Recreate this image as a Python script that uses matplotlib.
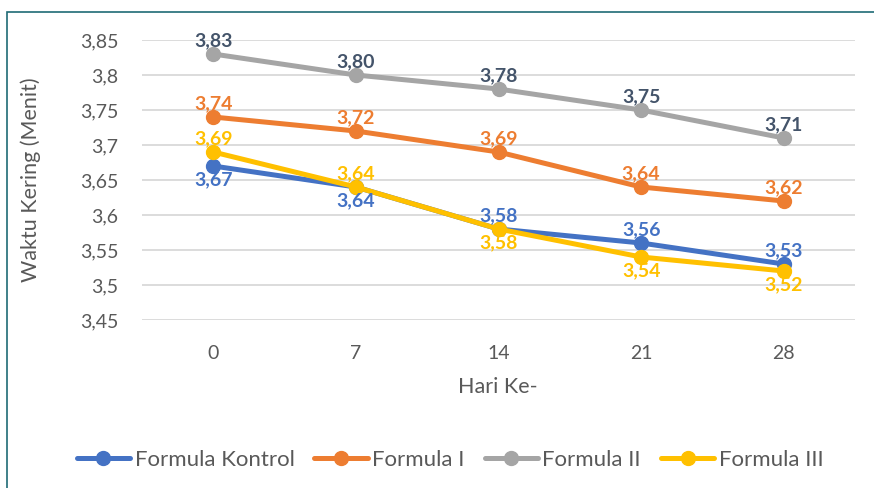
import matplotlib
matplotlib.use("Agg")
import matplotlib.pyplot as plt
from matplotlib.patches import Rectangle

days = ["0", "7", "14", "21", "28"]
series_names = ["Formula Kontrol", "Formula I", "Formula II", "Formula III"]
kontrol = [3.67, 3.64, 3.58, 3.56, 3.53]
formula_i = [3.74, 3.72, 3.69, 3.64, 3.62]
formula_ii = [3.83, 3.80, 3.78, 3.75, 3.71]
formula_iii = [3.69, 3.64, 3.58, 3.54, 3.52]
yticks = [3.45, 3.5, 3.55, 3.6, 3.65, 3.7, 3.75, 3.8, 3.85]

colors = ["#4472C4", "#ED7D31", "#A5A5A5", "#FFC000"]
label_colors = ["#4472C4", "#ED7D31", "#44546A", "#FFC000"]
# label placement: +1 above, -1 below
placements = [
    [-1, -1, 1, 1, 1],
    [1, 1, 1, 1, 1],
    [1, 1, 1, 1, 1],
    [1, 1, -1, -1, -1],
]

plt.rcParams['font.family'] = ['Lato', 'DejaVu Sans']
W, H = 874, 488
fig = plt.figure(figsize=(W / 100, H / 100), dpi=100)
ax = fig.add_axes([142 / W, 1 - 320 / H, (855 - 142) / W, (320 - 40) / H])

x = list(range(len(days)))
data = [kontrol, formula_i, formula_ii, formula_iii]
for vals, c, lc, pl, name in zip(data, colors, label_colors, placements, series_names):
    ax.plot(x, vals, color=c, lw=3.6, marker="o", ms=10, label=name,
            solid_capstyle="round", zorder=3)
    for xi, v, p in zip(x, vals, pl):
        ax.annotate(f"{v:.2f}".replace(".", ","), (xi, v),
                    xytext=(0, 9.4 if p > 0 else -10), textcoords="offset points",
                    ha="center", va="center",
                    color=lc, fontsize=14, fontweight="bold", zorder=4)

ax.set_xlim(-0.5, len(days) - 0.5)
ax.set_ylim(3.45, 3.85)
ax.set_yticks(yticks)
ax.set_yticklabels([("%g" % t).replace(".", ",") for t in yticks])
ax.set_xticks(x)
ax.set_xticklabels(days)
ax.tick_params(axis="both", length=0, labelsize=14, labelcolor="#595959")
ax.tick_params(axis="y", pad=17)
ax.tick_params(axis="x", pad=18)
ax.grid(axis="y", color="#D9D9D9", lw=1.3)
ax.set_axisbelow(True)
for s in ax.spines.values():
    s.set_visible(False)
for t in ax.texts:
    t.set_clip_on(False)

fig.text(31 / W, 1 - 180 / H, "Waktu Kering (Menit)", rotation=90, ha="center",
         va="center", fontsize=15.5, color="#595959")
fig.text(498 / W, 1 - 387 / H, "Hari Ke-", ha="center", va="center",
         fontsize=15.5, color="#595959")

handles, labels = ax.get_legend_handles_labels()
leg = fig.legend(handles, labels, loc="center", bbox_to_anchor=(450 / W, 1 - 460 / H),
                 ncol=4, frameon=False, fontsize=16, handlelength=2.4,
                 handletextpad=0.2, columnspacing=0.9, labelcolor="#595959")

fig.patches.append(Rectangle((7 / W, -0.1), 1.2, 1 - 12 / H + 0.1,
                             transform=fig.transFigure, fill=False,
                             edgecolor="#1F6B75", lw=1.2))
fig.savefig("out.png", dpi=100)
